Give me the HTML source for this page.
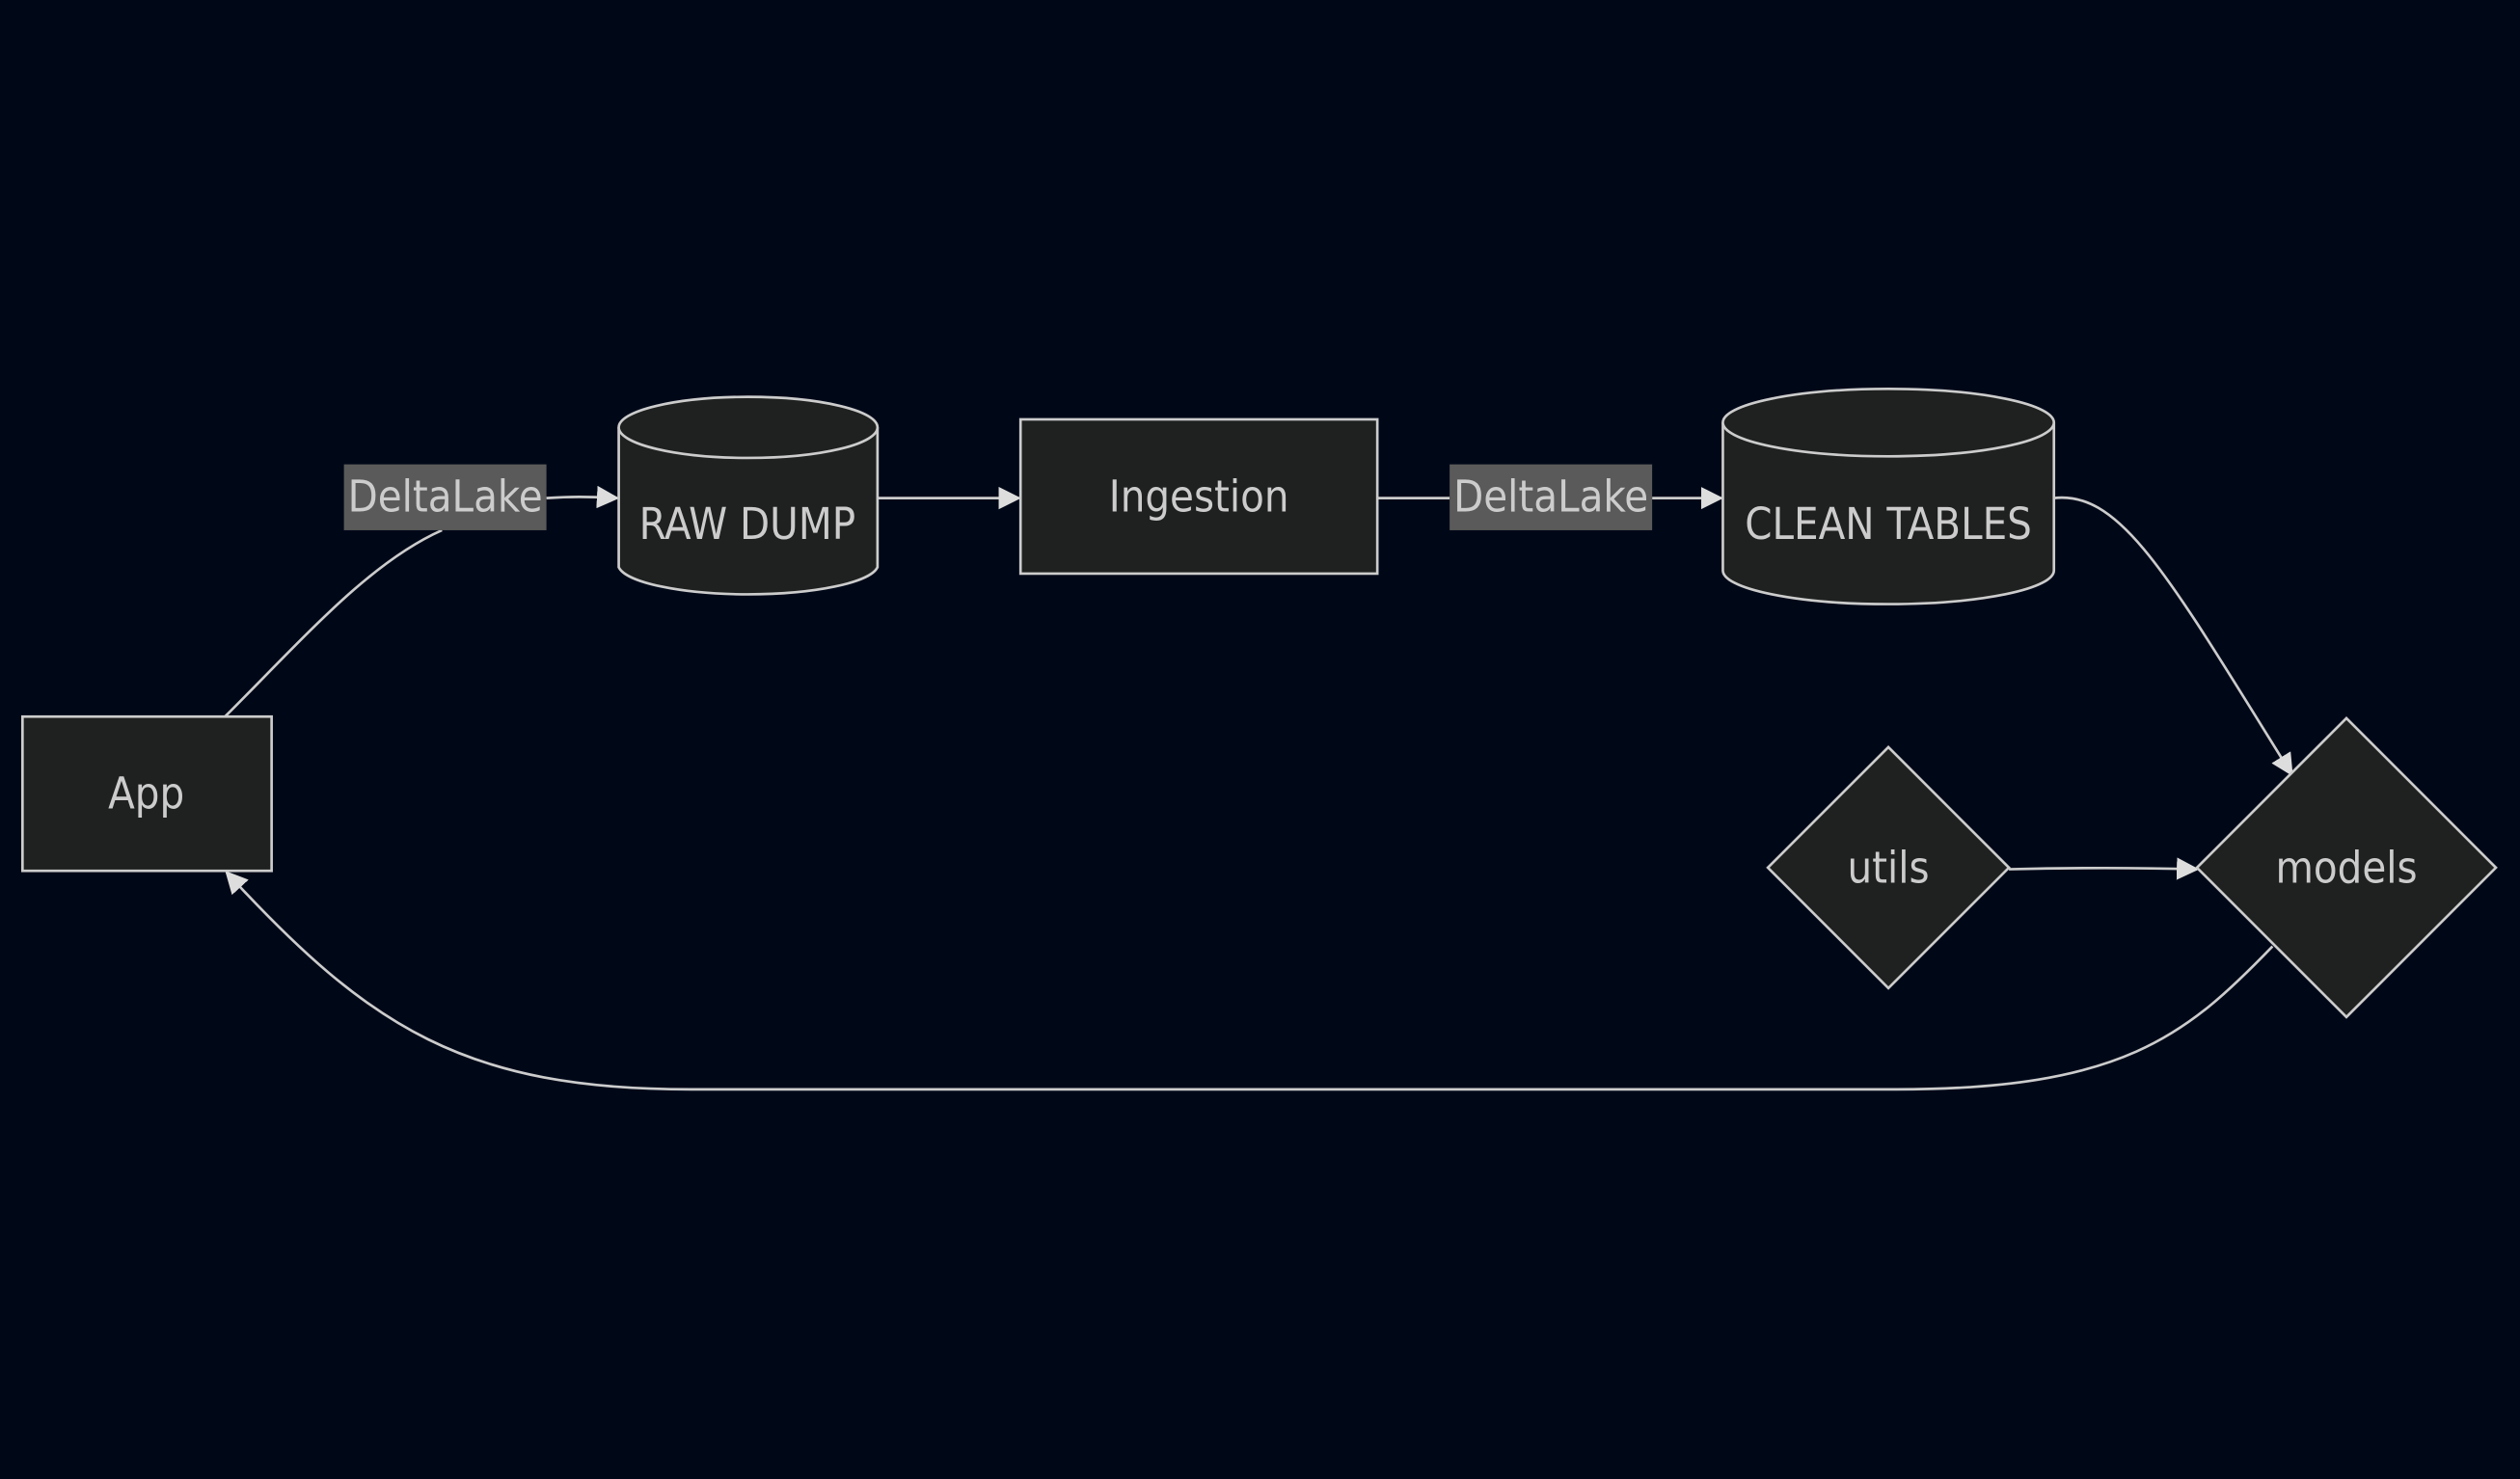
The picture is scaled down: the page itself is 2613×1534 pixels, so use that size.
<!DOCTYPE html>
<html><head><style>
html,body{margin:0;padding:0;background:#000818;}
svg{display:block}
text{font-family:"DejaVu Sans Condensed","Liberation Sans",sans-serif;fill:#cccccc;font-size:27px;text-anchor:middle;dominant-baseline:central}
</style></head><body>
<svg width="2613" height="1534" viewBox="0 0 1568 920.5" xmlns="http://www.w3.org/2000/svg">
<defs><marker id="a" viewBox="0 0 10 10" refX="9" refY="5" markerWidth="8" markerHeight="8" orient="auto" markerUnits="userSpaceOnUse"><path d="M0,0L10,5L0,10z" fill="#ccc"/></marker>
<marker id="b" viewBox="0 0 10 10" refX="9" refY="5" markerWidth="14" markerHeight="14" orient="auto" markerUnits="userSpaceOnUse"><path d="M0,0L10,5L0,10z" fill="#ddd"/></marker></defs>
<rect width="1568" height="920.5" fill="#000818"/>
<g fill="none" stroke="#ccc" stroke-width="1.6">
<path d="M140,446 C190,396 230,350 275,330"/>
<path d="M340,310 C355,309 365,309 384,310" marker-end="url(#b)"/>
<path d="M546,310 L634,310" marker-end="url(#b)"/>
<path d="M857,310 L902,310"/>
<path d="M1028,310 L1071,310" marker-end="url(#b)"/>
<path d="M1278,310 C1320,305 1350,360 1426,482" marker-end="url(#b)"/>
<path d="M1250,541 C1290,540 1330,540 1367,541" marker-end="url(#b)"/>
<path d="M1414,589 C1360,645 1320,678 1180,678 L430,678 C290,678 230,640 141,543" marker-end="url(#b)"/>
</g>
<g fill="#1f2020" stroke="#ccc" stroke-width="1.6">
<rect x="14" y="446" width="155" height="96"/>
<path d="M385,266 L385,353 A81,19 0 0 0 546,353 L546,266"/>
<ellipse cx="465.5" cy="266" rx="80.5" ry="19"/>
<rect x="635" y="261" width="222" height="96"/>
<path d="M1072,263 L1072,355 A103,21 0 0 0 1278,355 L1278,263"/>
<ellipse cx="1175" cy="263" rx="103" ry="21"/>
<path d="M1175,465 L1250,540 L1175,615 L1100,540z"/>
<path d="M1460,447 L1553,540 L1460,633 L1367,540z"/>
</g>
<rect x="214" y="289" width="126" height="41" fill="#5a5a5a"/>
<rect x="902" y="289" width="126" height="41" fill="#5a5a5a"/>
<text x="91" y="494">App</text>
<text x="277" y="309">DeltaLake</text>
<text x="465" y="326">RAW DUMP</text>
<text x="746" y="309">Ingestion</text>
<text x="965" y="309">DeltaLake</text>
<text x="1175" y="326">CLEAN TABLES</text>
<text x="1175" y="540">utils</text>
<text x="1460" y="540">models</text>
</svg>
</body></html>
